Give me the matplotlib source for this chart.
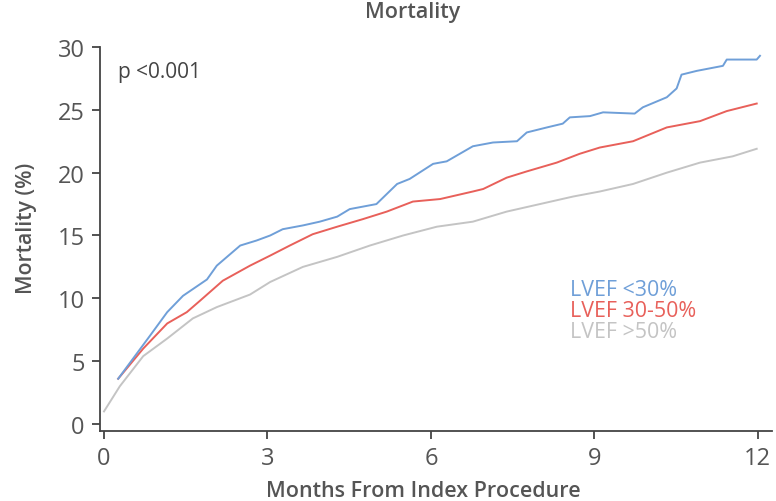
import matplotlib
matplotlib.use("Agg")
import matplotlib.pyplot as plt

plt.rcParams['font.family'] = ['Open Sans', 'DejaVu Sans']

# Kaplan-Meier style cumulative mortality by LVEF group
months_low = [0.26, 0.84, 1.16, 1.45, 1.89, 2.07, 2.5, 2.8, 3.05, 3.28, 3.65, 3.96,
              4.28, 4.51, 5.0, 5.38, 5.61, 6.04, 6.29, 6.77, 7.14, 7.58, 7.76, 8.13,
              8.42, 8.55, 8.92, 9.16, 9.74, 9.89, 10.33, 10.51, 10.6, 10.88, 11.36,
              11.43, 11.98, 12.04]
mort_low = [3.6, 7.0, 8.9, 10.2, 11.5, 12.6, 14.2, 14.6, 15.0, 15.5, 15.8, 16.1,
            16.5, 17.1, 17.5, 19.1, 19.5, 20.7, 20.9, 22.1, 22.4, 22.5, 23.2, 23.6,
            23.9, 24.4, 24.5, 24.8, 24.7, 25.2, 26.0, 26.7, 27.8, 28.1, 28.5,
            29.0, 29.0, 29.3]

months_mid = [0.26, 0.72, 1.16, 1.52, 1.76, 2.18, 2.68, 3.05, 3.41, 3.83, 4.28, 4.75,
              5.19, 5.67, 6.17, 6.77, 6.96, 7.39, 7.76, 8.31, 8.73, 9.1, 9.71, 10.33,
              10.94, 11.43, 11.98]
mort_mid = [3.6, 6.0, 8.0, 8.9, 9.8, 11.4, 12.6, 13.4, 14.2, 15.1, 15.7, 16.3,
            16.9, 17.7, 17.9, 18.5, 18.7, 19.6, 20.1, 20.8, 21.5, 22.0, 22.5, 23.6,
            24.1, 24.9, 25.5]

months_high = [0.0, 0.29, 0.72, 1.16, 1.63, 2.07, 2.68, 3.05, 3.65, 4.28, 4.88, 5.49,
               6.11, 6.77, 7.39, 8.0, 8.61, 9.1, 9.71, 10.33, 10.94, 11.54, 11.98]
mort_high = [1.0, 3.0, 5.4, 6.8, 8.4, 9.3, 10.3, 11.3, 12.5, 13.3, 14.2, 15.0,
             15.7, 16.1, 16.9, 17.5, 18.1, 18.5, 19.1, 20.0, 20.8, 21.3, 21.9]

groups = ['LVEF <30%', 'LVEF 30-50%', 'LVEF >50%']
colors = ['#6f9fd8', '#e8605a', '#c4c4c4']
text_grey = '#555555'

fig = plt.figure(figsize=(7.76, 5.02), dpi=100)
ax = fig.add_axes([0.1289, 0.1394, 0.8659, 0.765])

for x, y, c in [(months_high, mort_high, colors[2]),
                (months_mid, mort_mid, colors[1]),
                (months_low, mort_low, colors[0])]:
    ax.plot(x, y, color=c, lw=1.4)

ax.set_xlim(-0.073, 12.26)
ax.set_ylim(-0.56, 30)
ax.set_xticks([0, 3, 6, 9, 12])
ax.set_yticks([0, 5, 10, 15, 20, 25, 30])

for s in ['top', 'right']:
    ax.spines[s].set_visible(False)
for s in ['left', 'bottom']:
    ax.spines[s].set_color('#444444')
    ax.spines[s].set_linewidth(1.3)
ax.tick_params(direction='out', length=6, width=1.3, color='#444444',
               labelcolor=text_grey, labelsize=17, pad=5)

fig.text(0.532, 0.975, 'Mortality', ha='center', va='center', fontsize=15.5,
         color=text_grey, fontweight='semibold')
fig.text(0.546, 0.02, 'Months From Index Procedure', ha='center', va='center',
         fontsize=15.5, color=text_grey, fontweight='semibold')
fig.text(0.034, 0.545, 'Mortality (%)', ha='center', va='center', rotation=90,
         fontsize=15.3, color=text_grey, fontweight='semibold')
fig.text(0.152, 0.855, 'p <0.001', ha='left', va='center', fontsize=15,
         color='#444444')

for i, (g, c) in enumerate(zip(groups, colors)):
    fig.text(0.734, 0.422 - i * 0.042, g, ha='left', va='center', fontsize=15.4,
             color=c)

fig.savefig('out.png', dpi=100)
